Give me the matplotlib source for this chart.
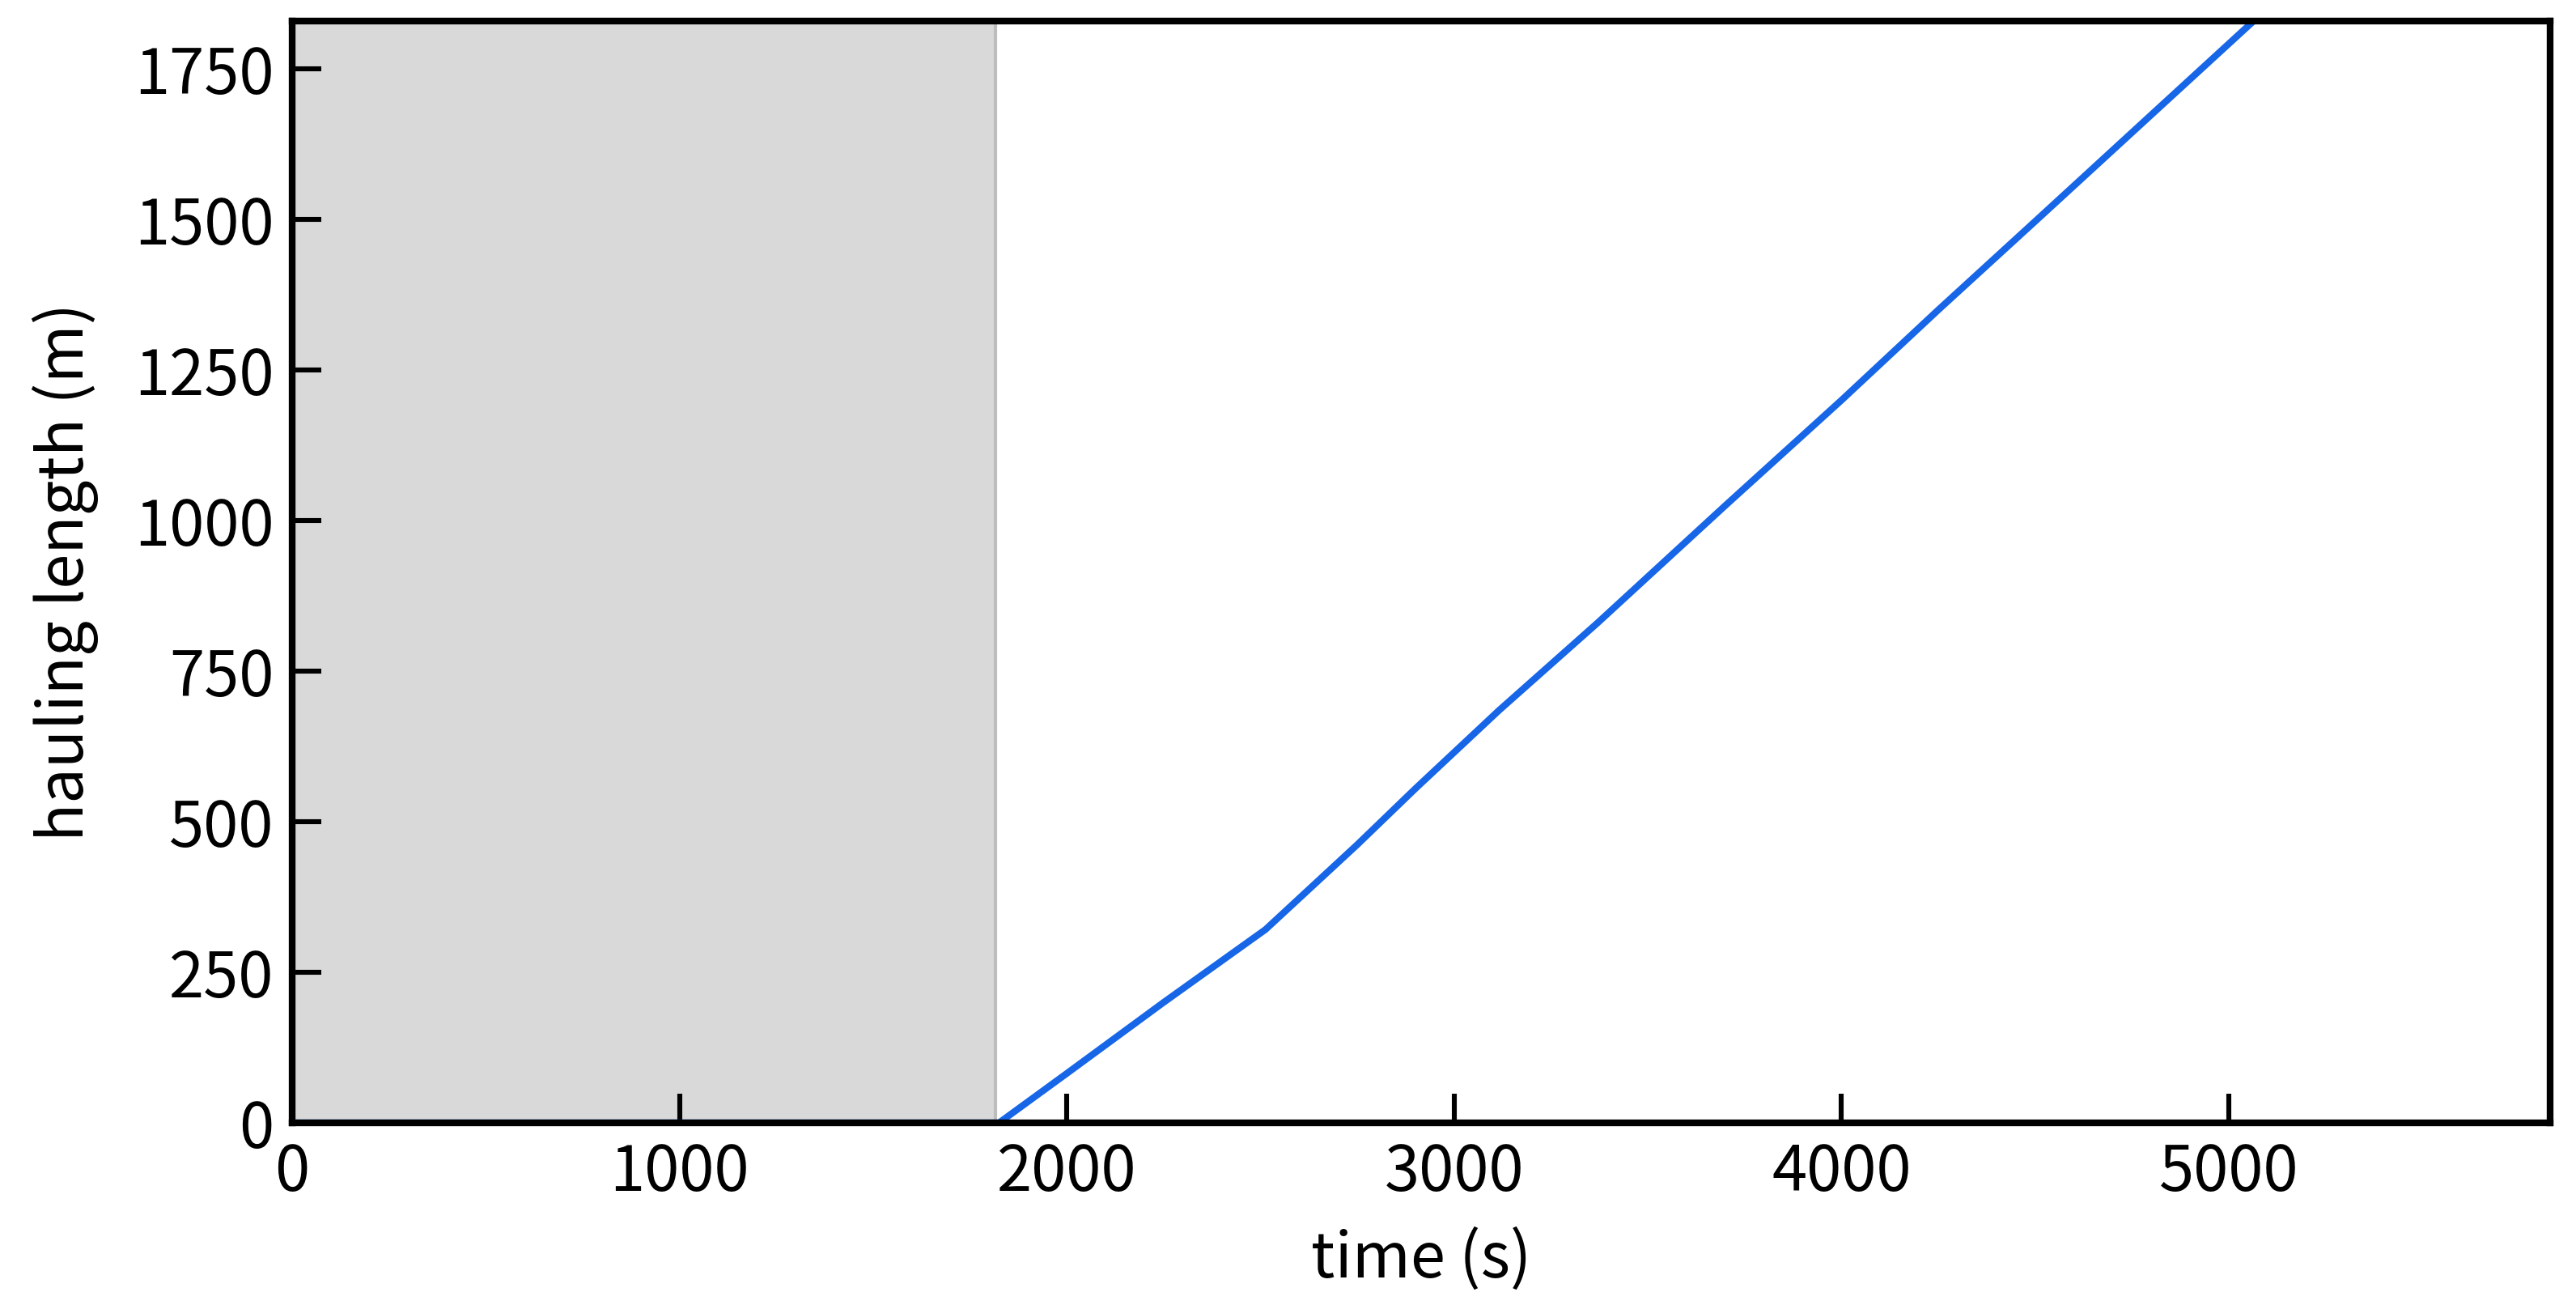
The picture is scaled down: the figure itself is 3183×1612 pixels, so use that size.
import numpy as np
import matplotlib.pyplot as plt

plt.rcParams['font.family'] = ['Noto Sans CJK JP', 'DejaVu Sans']

# hauling length over time
time_s = [0, 1825, 2000, 2250, 2513, 2750, 2900, 3116, 3370, 3700, 4000, 4250, 4500, 4800, 5090]
length_m = [0, 0, 82, 200, 321, 462, 555, 685, 830, 1025, 1200, 1350, 1497, 1674, 1845]

# shaded period
shade_start = 0
shade_end = 1815

xticks = [0, 1000, 2000, 3000, 4000, 5000]
yticks = [0, 250, 500, 750, 1000, 1250, 1500, 1750]

fig = plt.figure(figsize=(3183 / 200, 1612 / 200), dpi=200)
ax = fig.add_axes([0.1134, 0.1396, 0.8766, 0.8444])

ax.axvspan(shade_start, shade_end, facecolor='#d9d9d9', edgecolor='none', zorder=0)
ax.axvline(shade_end, color='#bdbdbd', lw=1.5, zorder=1)
ax.plot(time_s, length_m, color='#1766e8', lw=3, zorder=3)

ax.set_xlim(0, 5830)
ax.set_ylim(0, 1830)
ax.set_xticks(xticks)
ax.set_yticks(yticks)
ax.tick_params(direction='in', length=13, width=2.2, labelsize=28, pad=8)
for s in ax.spines.values():
    s.set_linewidth(3)
    s.set_zorder(5)

ax.set_xlabel('time (s)', fontsize=28, labelpad=10)
ax.set_ylabel('hauling length (m)', fontsize=28, labelpad=16)

fig.savefig('out.png', dpi=200)
